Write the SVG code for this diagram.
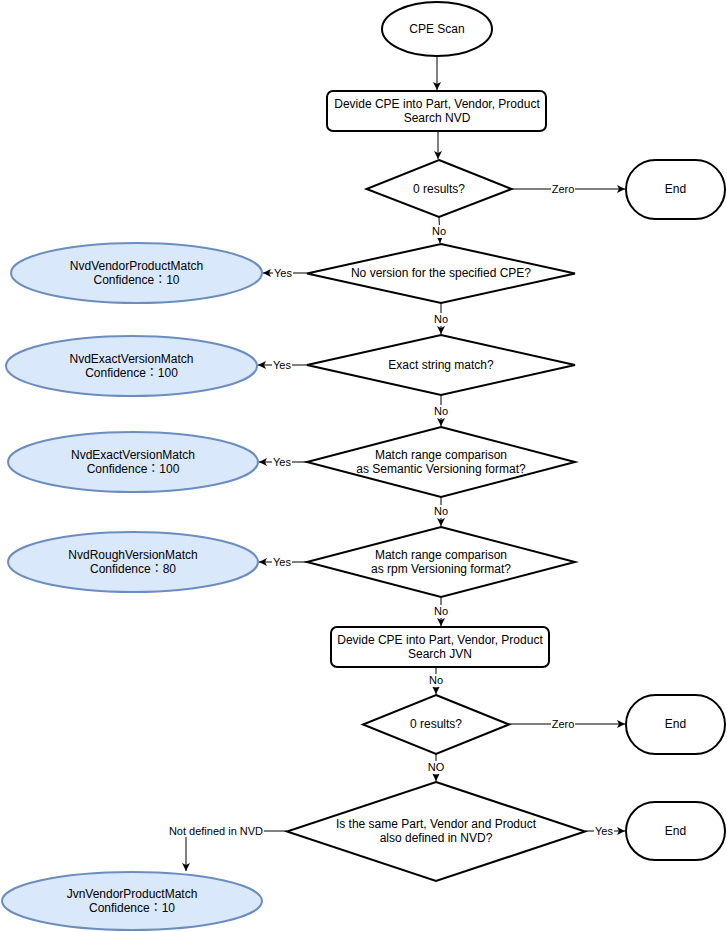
<svg xmlns="http://www.w3.org/2000/svg" width="727" height="932" viewBox="0 0 727 932">
<defs>
<marker id="arr" viewBox="0 0 8 8" refX="8" refY="4" markerWidth="8" markerHeight="8" markerUnits="userSpaceOnUse" orient="auto">
<path d="M0,0 L8,4 L0,8 L2,4 z" fill="#000"/>
</marker>
<style>
text{font-family:"Liberation Sans","Noto Sans CJK JP",sans-serif;fill:#000;text-anchor:middle}
.n text{font-size:12px}
.node{fill:#fff;stroke:#000;stroke-width:2}
.res{fill:#dae8fc;stroke:#6c8ebf;stroke-width:2}
.e{fill:none;stroke:#000;stroke-width:1;marker-end:url(#arr)}
.lb{fill:#fff;stroke:none}
.lt{font-size:11px}
</style>
</defs>
<rect width="727" height="932" fill="#fff"/>

<g id="connectors">
<path class="e" d="M437,56 L437,90"/>
<path class="e" d="M438,131 L438,159"/>
<path class="e" d="M511,189 L625,189"/>
<path class="e" d="M439,217 L440,243"/>
<path class="e" d="M307,273 L263,273"/>
<path class="e" d="M441,303 L441,334"/>
<path class="e" d="M307,365 L258,365"/>
<path class="e" d="M441,395 L441,426"/>
<path class="e" d="M307,462 L259,462"/>
<path class="e" d="M441,497 L441,526"/>
<path class="e" d="M307,562 L259,562"/>
<path class="e" d="M441,597 L441,626"/>
<path class="e" d="M436,667 L436,694"/>
<path class="e" d="M509,724 L625,724"/>
<path class="e" d="M436,754 L436,781"/>
<path class="e" d="M287,831 L186,831 L186,871"/>
<path class="e" d="M585,831 L625,831"/>
<g id="labels">
<rect class="lb" x="551" y="182" width="24" height="13"/><text class="lt" x="563" y="193">Zero</text>
<rect class="lb" x="431" y="225" width="16" height="13"/><text class="lt" x="439" y="235">No</text>
<rect class="lb" x="273" y="267" width="20" height="13"/><text class="lt" x="283" y="277">Yes</text>
<rect class="lb" x="433" y="313" width="16" height="13"/><text class="lt" x="441" y="323">No</text>
<rect class="lb" x="272" y="359" width="20" height="13"/><text class="lt" x="282" y="369">Yes</text>
<rect class="lb" x="433" y="405" width="16" height="13"/><text class="lt" x="441" y="415">No</text>
<rect class="lb" x="272" y="456" width="20" height="13"/><text class="lt" x="282" y="466">Yes</text>
<rect class="lb" x="433" y="505" width="16" height="13"/><text class="lt" x="441" y="515">No</text>
<rect class="lb" x="272" y="556" width="20" height="13"/><text class="lt" x="282" y="566">Yes</text>
<rect class="lb" x="433" y="605" width="16" height="13"/><text class="lt" x="441" y="615">No</text>
<rect class="lb" x="428" y="674" width="16" height="13"/><text class="lt" x="436" y="684">No</text>
<rect class="lb" x="551" y="717" width="24" height="13"/><text class="lt" x="563" y="728">Zero</text>
<rect class="lb" x="427" y="761" width="18" height="13"/><text class="lt" x="436" y="771">NO</text>
<rect class="lb" x="168" y="824" width="96" height="13"/><text class="lt" x="216" y="835">Not defined in NVD</text>
<rect class="lb" x="594" y="825" width="20" height="13"/><text class="lt" x="604" y="835">Yes</text>
</g>
</g>

<g id="cpe-scan" class="n"><ellipse class="node" cx="437" cy="29" rx="55" ry="27"/><text x="437" y="33">CPE Scan</text></g>
<g id="search-nvd" class="n"><rect class="node" x="327" y="91" width="219" height="40" rx="6"/><text x="437" y="108">Devide CPE into Part, Vendor, Product</text><text x="437" y="122">Search NVD</text></g>
<g id="nvd-zero" class="n"><polygon class="node" points="439,160 511.5,189 439,217 366.5,189"/><text x="439" y="193">0 results?</text></g>
<g id="end1" class="n"><rect class="node" x="626" y="160" width="99" height="59" rx="29.5"/><text x="675.5" y="193">End</text></g>
<g id="no-version" class="n"><polygon class="node" points="441,244 575,273.5 441,303 307,273.5"/><text x="441" y="277">No version for the specified CPE?</text></g>
<g id="nvd-vendor-product" class="n"><ellipse class="res" cx="136.5" cy="273" rx="125.5" ry="30"/><text x="136.5" y="270">NvdVendorProductMatch</text><text x="136.5" y="284">Confidence：10</text></g>
<g id="exact-string" class="n"><polygon class="node" points="441,335 575,365 441,395 307,365"/><text x="441" y="369">Exact string match?</text></g>
<g id="nvd-exact-1" class="n"><ellipse class="res" cx="131.5" cy="366" rx="125.5" ry="30"/><text x="131.5" y="363">NvdExactVersionMatch</text><text x="131.5" y="377">Confidence：100</text></g>
<g id="semver" class="n"><polygon class="node" points="441,427 575,462 441,497 307,462"/><text x="441" y="459">Match range comparison</text><text x="441" y="473">as Semantic Versioning format?</text></g>
<g id="nvd-exact-2" class="n"><ellipse class="res" cx="133" cy="462" rx="125" ry="30"/><text x="133" y="459">NvdExactVersionMatch</text><text x="133" y="473">Confidence：100</text></g>
<g id="rpm" class="n"><polygon class="node" points="441,527 575,562 441,597 307,562"/><text x="441" y="559">Match range comparison</text><text x="441" y="573">as rpm Versioning format?</text></g>
<g id="nvd-rough" class="n"><ellipse class="res" cx="133" cy="562" rx="125" ry="30"/><text x="133" y="559">NvdRoughVersionMatch</text><text x="133" y="573">Confidence：80</text></g>
<g id="search-jvn" class="n"><rect class="node" x="331" y="627" width="218" height="40" rx="6"/><text x="440" y="644">Devide CPE into Part, Vendor, Product</text><text x="440" y="658">Search JVN</text></g>
<g id="jvn-zero" class="n"><polygon class="node" points="436,695 509,724.5 436,754 363,724.5"/><text x="436" y="728">0 results?</text></g>
<g id="end2" class="n"><rect class="node" x="626" y="695" width="99" height="59" rx="29.5"/><text x="675.5" y="728">End</text></g>
<g id="defined-nvd" class="n"><polygon class="node" points="436,782 585,831.5 436,881 287,831.5"/><text x="436" y="828">Is the same Part, Vendor and Product</text><text x="436" y="842">also defined in NVD?</text></g>
<g id="end3" class="n"><rect class="node" x="626" y="802" width="99" height="58" rx="29"/><text x="675.5" y="835">End</text></g>
<g id="jvn-vendor-product" class="n"><ellipse class="res" cx="132" cy="901" rx="130" ry="29"/><text x="132" y="898">JvnVendorProductMatch</text><text x="132" y="912">Confidence：10</text></g>
</svg>
